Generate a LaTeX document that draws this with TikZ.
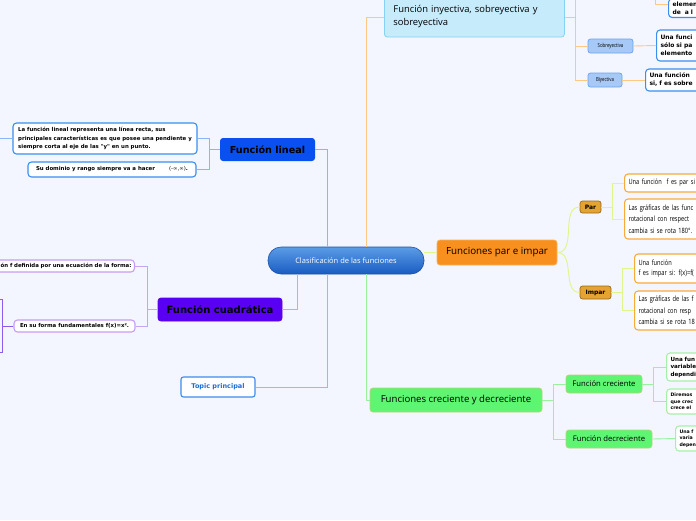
\documentclass[tikz,border=0pt]{standalone}
\usepackage{fontspec}
\setmainfont{Open Sans}
\newfontfamily\verd{DejaVu Sans}
\newfontfamily\cond[FakeStretch=0.78]{Open Sans}
\usetikzlibrary{positioning}

\definecolor{bgcol}{RGB}{243,246,254}
\definecolor{cenTop}{RGB}{92,156,230}
\definecolor{cenBot}{RGB}{24,92,194}
\definecolor{cenBorder}{RGB}{30,80,170}
\definecolor{linealFill}{RGB}{10,80,240}
\definecolor{blueLeaf}{RGB}{60,142,240}
\definecolor{blueLine}{RGB}{142,180,248}
\definecolor{inyFill}{RGB}{198,236,251}
\definecolor{inyBorder}{RGB}{134,210,242}
\definecolor{sobreFill}{RGB}{167,201,247}
\definecolor{sobreBorder}{RGB}{106,163,238}
\definecolor{orangeLine}{RGB}{255,200,128}
\definecolor{parimpFill}{RGB}{247,144,30}
\definecolor{parimpBorder}{RGB}{248,176,96}
\definecolor{parFill}{RGB}{229,163,49}
\definecolor{parBorder}{RGB}{154,106,26}
\definecolor{parLeaf}{RGB}{247,172,58}
\definecolor{ygLine}{RGB}{226,244,140}
\definecolor{crecFill}{RGB}{93,245,114}
\definecolor{crecBorder}{RGB}{180,212,124}
\definecolor{greenLine}{RGB}{152,242,158}
\definecolor{greenLeaf}{RGB}{165,240,168}
\definecolor{cuadFill}{RGB}{90,0,242}
\definecolor{purpleLine}{RGB}{195,166,246}
\definecolor{purpleLeaf}{RGB}{199,156,245}
\definecolor{darkPurple}{RGB}{138,92,240}
\definecolor{topicBorder}{RGB}{63,140,238}
\definecolor{topicText}{RGB}{26,106,216}
\definecolor{pinkLine}{RGB}{242,140,242}

\begin{document}
\begin{tikzpicture}[x=1pt,y=-1pt,
  every node/.style={inner sep=0pt},
  cenbox/.style={rounded corners=13pt, draw=cenBorder, line width=.6pt,
    top color=cenTop, bottom color=cenBot, text=white,
    font=\fontsize{7.5}{8}\selectfont, minimum width=156pt, minimum height=27pt},
  bigbox/.style={rounded corners=3pt, line width=.8pt},
  smallbox/.style={rounded corners=2.5pt, line width=.7pt},
  leaf/.style={rounded corners=3.5pt, fill=white, line width=1.1pt, align=left},
  vleaf/.style={leaf, font=\verd\bfseries\fontsize{5.4}{8.5}\selectfont},
  rleaf/.style={leaf, anchor=west, inner xsep=4pt, text width=90pt},
  bline/.style={draw=blueLine, line width=.9pt},
  oline/.style={draw=orangeLine, line width=.9pt},
  yline/.style={draw=ygLine, line width=.9pt},
  gline/.style={draw=greenLine, line width=.9pt},
  pline/.style={draw=purpleLine, line width=.9pt},
  dpline/.style={draw=darkPurple, line width=.9pt},
  kline/.style={draw=pinkLine, line width=.9pt}]

  \useasboundingbox (0,0) rectangle (696,520);
  \fill[bgcol] (0,0) rectangle (696,520);
  \clip (0,0) rectangle (696,520);

  % centre
  \node[cenbox] (cen) at (346,260.5) {Clasificación de las funciones};

  % lineal
  \node[bigbox, fill=linealFill, minimum width=95pt, minimum height=23pt,
    font=\verd\bfseries\fontsize{9.6}{10}\selectfont] (lineal) at (267.5,149.5) {Función lineal};
  \node[vleaf, draw=blueLeaf, minimum width=184pt, minimum height=31pt, inner xsep=4pt] (lin1) at (105,138.5)
    {La función lineal representa una línea recta, sus\\
     principales características es que posee una pendiente y\\
     siempre corta al eje de las "y" en un punto.};
  \node[vleaf, draw=blueLeaf, minimum width=168pt, minimum height=15pt] (lin2) at (112,169.5)
    {Su dominio y rango siempre va a hacer\hspace{14pt}{\verd\mdseries (-∞,∞)}.};

  % inyectiva
  \node[bigbox, fill=inyFill, draw=inyBorder, anchor=west, text width=162pt, inner xsep=9pt,
    minimum height=40pt, align=left, font=\fontsize{9.4}{13}\selectfont] (iny) at (384,17)
    {Función inyectiva, sobreyectiva y\\ sobreyectiva};
  \node[smallbox, fill=sobreFill, draw=sobreBorder, minimum width=45pt, minimum height=14pt,
    font=\cond\fontsize{5.6}{6}\selectfont] (sobre) at (610.5,46) {Sobreyectiva};
  \node[smallbox, fill=sobreFill, draw=sobreBorder, minimum width=34pt, minimum height=14pt,
    font=\cond\fontsize{5.6}{6}\selectfont] (biy) at (605,80) {Biyectiva};
  \node[rleaf, draw=blueLeaf, minimum height=31pt, font=\verd\bfseries\fontsize{6}{8}\selectfont] (sobreC) at (656,45.5)
    {Una funci\\ sólo si pa\\ elemento};
  \node[rleaf, draw=blueLeaf, minimum height=22pt, font=\verd\bfseries\fontsize{6}{8}\selectfont] (biyC) at (645,80)
    {Una función\\ si, f es sobre};
  \node[leaf, draw=blueLeaf, anchor=south west, inner xsep=4pt, inner ysep=3pt, text width=90pt,
    font=\verd\bfseries\fontsize{6}{8}\selectfont] (topC) at (668,18)
    {elemen\\ de~ a l};
  \coordinate (offI) at (590,-10);
  \coordinate (offT) at (655,-10);

  % par e impar
  \node[bigbox, fill=parimpFill, draw=parimpBorder, minimum width=120pt, minimum height=25pt,
    font=\fontsize{9.8}{11}\selectfont] (parimp) at (497,252.5) {Funciones par e impar};
  \node[smallbox, fill=parFill, draw=parBorder, minimum width=21pt, minimum height=12pt,
    font=\verd\bfseries\fontsize{6}{7}\selectfont] (par) at (590.5,207) {Par};
  \node[smallbox, fill=parFill, draw=parBorder, minimum width=31pt, minimum height=13pt,
    font=\verd\bfseries\fontsize{6}{7}\selectfont] (impar) at (595.5,292.5) {Impar};
  \node[rleaf, draw=parLeaf, minimum height=18pt, font=\cond\fontsize{7.3}{11}\selectfont] (par1) at (624,183)
    {Una función~ f es par si};
  \node[rleaf, draw=parLeaf, minimum height=40pt, font=\cond\fontsize{7.3}{11.5}\selectfont] (par2) at (624,219)
    {Las gráficas de las func\\ rotacional con respect\\ cambia si se rota 180°.};
  \node[rleaf, draw=parLeaf, minimum height=29pt, font=\cond\fontsize{7.3}{10}\selectfont] (imp1) at (634,268.5)
    {Una función\\ f es impar si: f(x)=f(};
  \node[rleaf, draw=parLeaf, minimum height=39pt, font=\cond\fontsize{7.3}{11.5}\selectfont] (imp2) at (634,310.5)
    {Las gráficas de las f\\ rotacional con resp\\ cambia si se rota 18};

  % creciente y decreciente
  \node[bigbox, fill=crecFill, draw=crecBorder, minimum width=172pt, minimum height=24pt,
    font=\fontsize{9.6}{11}\selectfont] (crec) at (456,400) {Funciones creciente y decreciente};
  \node[bigbox, fill=crecFill, draw=crecBorder, minimum width=76pt, minimum height=18pt,
    font=\fontsize{7.7}{9}\selectfont] (fcre) at (604,384) {Función creciente};
  \node[bigbox, fill=crecFill, draw=crecBorder, minimum width=86pt, minimum height=18pt,
    font=\fontsize{7.7}{9}\selectfont] (fdec) at (609,439) {Función decreciente};
  \node[rleaf, draw=greenLeaf, minimum height=28pt, font=\verd\bfseries\fontsize{5.6}{7.5}\selectfont] (cre1) at (666,367)
    {Una fun\\ variable\\ dependi};
  \node[rleaf, draw=greenLeaf, minimum height=25pt, font=\verd\bfseries\fontsize{4.7}{6.5}\selectfont] (cre2) at (666,401.5)
    {Diremos\\ que crec\\ crece el};
  \node[rleaf, draw=greenLeaf, minimum height=25pt, font=\verd\bfseries\fontsize{4.7}{6.5}\selectfont] (dec1) at (675,438.5)
    {Una f\\ varia\\ depen};

  % cuadratica
  \node[bigbox, fill=cuadFill, draw=cuadFill, minimum width=124pt, minimum height=23pt,
    font=\verd\bfseries\fontsize{10}{10}\selectfont] (cuad) at (220,309.5) {Función cuadrática};
  \node[vleaf, draw=purpleLeaf, anchor=east, text width=170pt, align=right, inner xsep=3pt,
    minimum height=12pt] (cua1) at (135,266) {ón f definida por una ecuación de la forma:};
  \node[vleaf, draw=purpleLeaf, minimum width=121pt, minimum height=12pt] (cua2) at (74.5,326)
    {En su forma fundamentales f(x)=x².};
  \coordinate (offA) at (-5,299);
  \coordinate (offB) at (-5,352);
  \coordinate (offL) at (-5,138.5);

  % topic
  \node[smallbox, fill=white, draw=topicBorder, line width=1.1pt, minimum width=74pt, minimum height=20pt,
    text=topicText, font=\verd\bfseries\fontsize{6.5}{7}\selectfont] (topic) at (218,387) {Topic principal};

  % connectors
  \draw[bline] (lineal.east) -| ([xshift=-19pt]cen.north);
  \draw[bline] (lineal.west) -- ++(-10,0) |- (lin1.east);
  \draw[bline] (lineal.west) -- ++(-10,0) |- (lin2.east);
  \draw[bline] (lin1.west) -- (offL);

  \draw[oline] ([xshift=20pt]cen.north) |- (iny.west);
  \draw[oline] (iny.east) -- ++(11,0) |- (sobre.west);
  \draw[oline] (iny.east) -- ++(11,0) |- (biy.west);
  \draw[oline] (iny.east) -- ++(11,0) |- (offI);
  \draw[oline] (sobre.east) -- (sobreC.west);
  \draw[oline] (biy.east) -- (biyC.west);
  \draw[oline] (offT) |- ([yshift=4pt]topC.west);

  \draw[yline] (cen.east |- parimp.west) -- (parimp.west);
  \draw[yline] (parimp.east) to[out=0,in=180] (par.west);
  \draw[yline] (parimp.east) to[out=0,in=180] (impar.west);
  \draw[yline] (par.east) -- ++(11,0) |- (par1.west);
  \draw[yline] (par.east) -- ++(11,0) |- (par2.west);
  \draw[yline] (impar.east) -- ++(11,0) |- (imp1.west);
  \draw[yline] (impar.east) -- ++(11,0) |- (imp2.west);

  \draw[gline] ([xshift=20pt]cen.south) |- (crec.west);
  \draw[gline] (crec.east) -- ++(11,0) |- (fcre.west);
  \draw[gline] (crec.east) -- ++(11,0) |- (fdec.west);
  \draw[gline] (fcre.east) -- ++(11,0) |- (cre1.west);
  \draw[gline] (fcre.east) -- ++(11,0) |- (cre2.west);
  \draw[gline] (fdec.east) -- (dec1.west);

  \draw[pline] (cuad.east) -| ([xshift=-49pt]cen.south);
  \draw[pline] (cuad.west) -- ++(-10,0) |- (cua1.east);
  \draw[pline] (cuad.west) -- ++(-10,0) |- (cua2.east);
  \draw[dpline] (cua2.west) -- ++(-11,0) |- (offA);
  \draw[dpline] (cua2.west) -- ++(-11,0) |- (offB);

  \draw[kline] (topic.east) -| ([xshift=-19pt]cen.south);
\end{tikzpicture}
\end{document}
